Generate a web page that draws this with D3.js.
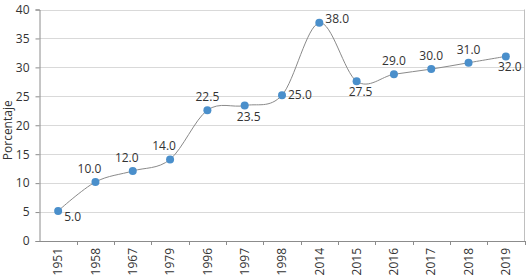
<!DOCTYPE html>
<html><head><meta charset="utf-8">
<script src="https://cdn.jsdelivr.net/npm/d3@7"></script>
<style>body{margin:0;background:#fff;} text{font-family:"Open Sans","Noto Sans",sans-serif;}</style>
</head><body>
<svg id="c" width="527" height="275"></svg>
<script>
const years = ["1951","1958","1967","1979","1996","1997","1998","2014","2015","2016","2017","2018","2019"];
const values = [5.0,10.0,12.0,14.0,22.5,23.5,25.0,38.0,27.5,29.0,30.0,31.0,32.0];
const plotted = [5.2,10.2,12.1,14.1,22.6,23.4,25.2,37.7,27.6,28.8,29.7,30.8,31.9];
const labelPlacement = ["right","aboveLeft","aboveLeft","aboveLeft","above","below","right","right","below","above","above","above","below"];
const yTicks = [0,5,10,15,20,25,30,35,40];
const yTitle = "Porcentaje";

const svg = d3.select("#c");
const m = {l:39.5, r:524.5, t:9.5, b:241};
const x = d3.scaleBand().domain(years).range([m.l, m.r]);
const y = d3.scaleLinear().domain([0,40]).range([m.b, m.t]);
const fs = 12;

// gridlines
svg.append("g").selectAll("line").data(yTicks.filter(d=>d>0)).join("line")
  .attr("x1", m.l).attr("x2", m.r).attr("y1", d=>Math.round(y(d))+0.5).attr("y2", d=>Math.round(y(d))+0.5)
  .attr("stroke", "#d9d9d9").attr("stroke-width", 1);
// right border
svg.append("line").attr("x1", m.r).attr("x2", m.r).attr("y1", y(40)).attr("y2", m.b)
  .attr("stroke","#bfbfbf");

// y axis
const ya = svg.append("g").attr("transform", `translate(${m.l},0)`)
  .call(d3.axisLeft(y).tickValues(yTicks).tickSize(4).tickPadding(6).tickFormat(d3.format("d")));
ya.select(".domain").attr("stroke","#8c8c8c");
ya.selectAll(".tick line").attr("stroke","#8c8c8c");
ya.selectAll("text").attr("font-size", fs).attr("fill","#333").style("font-family",'"Open Sans","Noto Sans",sans-serif');

// x axis
const xa = svg.append("g").attr("transform", `translate(0,${m.b})`)
  .call(d3.axisBottom(x).tickSize(0).tickSizeOuter(0));
xa.select(".domain").attr("stroke","#8c8c8c");
xa.selectAll(".tick text").attr("font-size", fs).attr("fill","#333")
  .style("font-family",'"Open Sans","Noto Sans",sans-serif')
  .attr("transform","rotate(-90)").attr("text-anchor","end").attr("dy","0.35em").attr("x",-7).attr("y",0);
// boundary ticks
const bounds = years.map((d,i)=>x(d)).concat([m.r]).slice(1);
xa.append("g").selectAll("line").data(bounds).join("line")
  .attr("x1", d=>Math.round(d)+0.5).attr("x2", d=>Math.round(d)+0.5).attr("y1",0).attr("y2",4)
  .attr("stroke","#8c8c8c");

// y title
svg.append("text").attr("transform", `translate(12,${(m.t+m.b)/2+5}) rotate(-90)`)
  .attr("text-anchor","middle").attr("font-size", fs).attr("fill","#333").text(yTitle);

// line
const cx = d => x(d) + x.bandwidth()/2;
const line = d3.line().x((d,i)=>cx(years[i])).y(d=>y(d)).curve(d3.curveCardinal.tension(0));
svg.append("path").datum(plotted).attr("d", line).attr("fill","none")
  .attr("stroke","#8a8a8a").attr("stroke-width",1);

// points
svg.append("g").selectAll("circle").data(plotted).join("circle")
  .attr("cx",(d,i)=>cx(years[i])).attr("cy",d=>y(d)).attr("r",4)
  .attr("fill","#4a8fcb");

// labels
const off = {
  right:{dx:6, dy:4, a:"start"},
  aboveLeft:{dx:-6, dy:-9, a:"middle"},
  above:{dx:0, dy:-9, a:"middle"},
  below:{dx:4, dy:15, a:"middle"}
};
svg.append("g").selectAll("text").data(values).join("text")
  .attr("x",(d,i)=>cx(years[i]) + off[labelPlacement[i]].dx)
  .attr("y",(d,i)=>y(plotted[i]) + off[labelPlacement[i]].dy + (i===0?6:0) + (i===7?-4:0))
  .attr("text-anchor",(d,i)=>off[labelPlacement[i]].a)
  .attr("font-size", fs).attr("fill","#333")
  .text(d=>d3.format(".1f")(d));
</script>
</body></html>
